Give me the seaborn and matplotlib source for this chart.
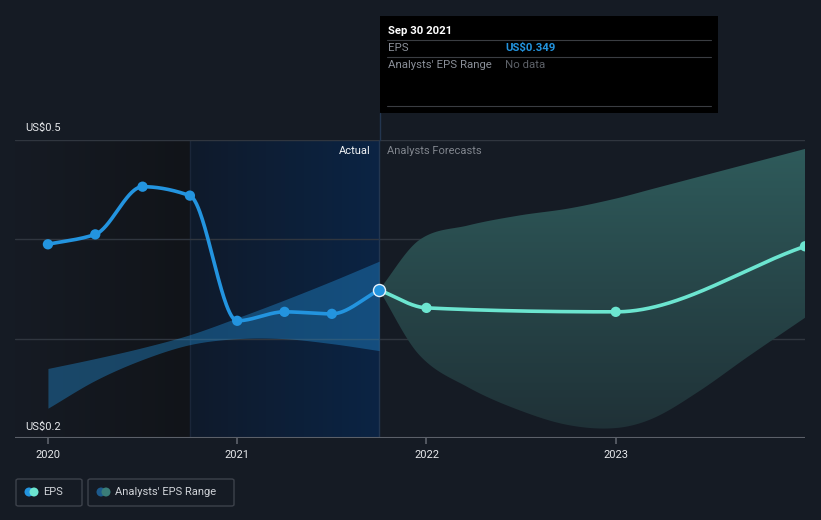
import numpy as np
import pandas as pd
import matplotlib
matplotlib.use("Agg")
import matplotlib.pyplot as plt
import seaborn as sns
from matplotlib.patches import FancyBboxPatch, Rectangle, Ellipse
from matplotlib.colors import LinearSegmentedColormap
from matplotlib.lines import Line2D

# ---------------- data ----------------
actual_t = [2020.0, 2020.25, 2020.5, 2020.75, 2021.0, 2021.25, 2021.5, 2021.75]
actual_eps = [0.395, 0.405, 0.453, 0.444, 0.318, 0.327, 0.325, 0.349]
past_range_low = [0.230, 0.258, 0.279, 0.294, 0.300, 0.300, 0.295, 0.288]
past_range_high = [0.270, 0.280, 0.291, 0.304, 0.321, 0.339, 0.358, 0.378]

forecast_t = [2021.75, 2022.0, 2023.0, 2024.0]
forecast_eps = [0.349, 0.331, 0.327, 0.393]

range_t = [2021.75, 2021.96, 2022.22, 2022.49, 2022.75, 2023.0, 2023.2, 2023.44, 2023.70, 2024.0]
range_low = [0.349, 0.284, 0.251, 0.228, 0.213, 0.210, 0.220, 0.247, 0.282, 0.321]
range_high = [0.349, 0.399, 0.414, 0.424, 0.431, 0.441, 0.451, 0.463, 0.476, 0.491]

year_ticks = [2020, 2021, 2022, 2023]
y_labels = ["US$0.2", "US$0.5"]

# ---------------- helpers ----------------
def hermite(x, y, m, xs):
    x = np.asarray(x, float); y = np.asarray(y, float)
    h = np.diff(x)
    idx = np.clip(np.searchsorted(x, xs) - 1, 0, len(x) - 2)
    t = (xs - x[idx]) / h[idx]
    h00 = 2 * t**3 - 3 * t**2 + 1
    h10 = t**3 - 2 * t**2 + t
    h01 = -2 * t**3 + 3 * t**2
    h11 = t**3 - t**2
    return h00 * y[idx] + h10 * h[idx] * m[idx] + h01 * y[idx + 1] + h11 * h[idx] * m[idx + 1]

def pchip_slopes(x, y):
    x = np.asarray(x, float); y = np.asarray(y, float)
    h = np.diff(x); d = np.diff(y) / h
    m = np.zeros_like(y)
    m[0] = d[0]; m[-1] = d[-1]
    for k in range(1, len(x) - 1):
        if d[k - 1] * d[k] <= 0:
            m[k] = 0.0
        else:
            w1 = 2 * h[k] + h[k - 1]; w2 = h[k] + 2 * h[k - 1]
            m[k] = (w1 + w2) / (w1 / d[k - 1] + w2 / d[k])
    return m

def cr_slopes(x, y):
    x = np.asarray(x, float); y = np.asarray(y, float)
    d = np.diff(y) / np.diff(x)
    m = np.zeros_like(y)
    m[0] = d[0]; m[-1] = d[-1]
    m[1:-1] = (y[2:] - y[:-2]) / (x[2:] - x[:-2])
    return m

def dense(t, v, kind="pchip", n=400):
    xs = np.linspace(t[0], t[-1], n)
    m = pchip_slopes(t, v) if kind == "pchip" else cr_slopes(t, v)
    return xs, hermite(t, v, m, xs)

# ---------------- style ----------------
BG = "#151b24"
BLUE = "#2394df"
MINT = "#6ce5d0"
sns.set_theme(style="dark")
plt.rcParams["font.family"] = ["Roboto", "DejaVu Sans"]

W, H = 821, 520
fig = plt.figure(figsize=(W / 100, H / 100), dpi=100, facecolor=BG)
L, R, T, B = 15, 805, 140, 438
ax = fig.add_axes([L / W, 1 - B / H, (R - L) / W, (B - T) / H])
ax.set_facecolor(BG)

X0, X1 = 2019.826, 2024.0
ax.set_xlim(X0, X1)
ax.set_ylim(0.2, 0.5)

def px2year(px):
    return X0 + (px - L) / (R - L) * (X1 - X0)

# background regions
left_cmap = LinearSegmentedColormap.from_list("l", ["#161b24", "#111419"])
ax.imshow(np.linspace(0, 1, 256)[None, :], cmap=left_cmap, aspect="auto",
          extent=[X0, 2020.75, 0.2, 0.5], zorder=0)
hl_cmap = LinearSegmentedColormap.from_list("h", ["#0f1a2b", "#0b2444"])
ax.imshow(np.linspace(0, 1, 256)[None, :], cmap=hl_cmap, aspect="auto",
          extent=[2020.75, 2021.75, 0.2, 0.5], zorder=0)
ax.axvline(2020.75, color="#1a2639", lw=1, zorder=1)

# gridlines
for gy in [0.3, 0.4, 0.5]:
    ax.axhline(gy, color="#30363f", lw=1, zorder=1)
ax.axhline(0.2, color="#5b6069", lw=1.5, zorder=5)

# vertical "today" line (inside plot) and above into tooltip
ax.axvline(2021.75, color="#233650", lw=1, zorder=1.5)
fig.add_artist(Line2D([379.5 / W, 379.5 / W], [1 - 140 / H, 1 - 113 / H], color="#233650", lw=1))

# past range band
xs_p, lo_p = dense(actual_t, past_range_low, "cr")
_, hi_p = dense(actual_t, past_range_high, "cr")
ax.fill_between(xs_p, lo_p, hi_p, color=BLUE, alpha=0.38, lw=0, zorder=2)

# forecast range band with vertical gradient
xs_f, lo_f = dense(range_t, range_low, "cr")
_, hi_f = dense(range_t, range_high, "cr")
poly = ax.fill_between(xs_f, lo_f, hi_f, facecolor="none", lw=0, zorder=2)
fc_cmap = LinearSegmentedColormap.from_list("f", ["#1f3036", "#2f5c5c"])
im = ax.imshow(np.linspace(0, 1, 256)[:, None], cmap=fc_cmap, aspect="auto",
               origin="lower", extent=[2021.75, X1, 0.2, 0.5], zorder=2)
im.set_clip_path(poly.get_paths()[0], transform=ax.transData)

# EPS lines
xa, ya = dense(actual_t, actual_eps)
df_a = pd.DataFrame({"t": xa, "eps": ya})
sns.lineplot(data=df_a, x="t", y="eps", color=BLUE, lw=2.6, ax=ax, zorder=4)
xf, yf = dense(forecast_t, forecast_eps)
df_f = pd.DataFrame({"t": xf, "eps": yf})
sns.lineplot(data=df_f, x="t", y="eps", color=MINT, lw=2.6, ax=ax, zorder=4)

pts_a = pd.DataFrame({"t": actual_t[:-1], "eps": actual_eps[:-1]})
sns.scatterplot(data=pts_a, x="t", y="eps", color=BLUE, s=55, edgecolor="none", ax=ax, zorder=6)
pts_f = pd.DataFrame({"t": forecast_t[1:], "eps": forecast_eps[1:]})
sns.scatterplot(data=pts_f, x="t", y="eps", color=MINT, s=55, edgecolor="none", ax=ax, zorder=6)
ax.scatter([actual_t[-1]], [actual_eps[-1]], s=75, c=[BLUE], edgecolors="#e8f2fb",
           linewidths=1.0, zorder=7)

# ticks
ax.set_xticks(year_ticks)
ax.set_xticklabels([str(y) for y in year_ticks], color="#e6e8eb", fontsize=8)
ax.tick_params(axis="x", length=4, color="#5b6069", pad=5, bottom=True)
ax.set_yticks([])
ax.set_xlabel(""); ax.set_ylabel("")
for s in ax.spines.values():
    s.set_visible(False)

# y labels inside
ax.text(px2year(25), 0.5 + 7 / 298 * 0.3, y_labels[1], color="#e6e8eb", fontsize=8,
        va="bottom", ha="left")
ax.text(px2year(25), 0.2 + 6 / 298 * 0.3, y_labels[0], color="#e6e8eb", fontsize=8,
        va="bottom", ha="left")

# Actual / Analysts Forecasts labels
fig.text(371 / W, 1 - 151 / H, "Actual", color="#f0f2f4", fontsize=8, ha="right", va="center")
fig.text(387 / W, 1 - 151 / H, "Analysts Forecasts", color="#80858d", fontsize=8, ha="left", va="center")

# tooltip
fig.add_artist(Rectangle((380 / W, 1 - 113 / H), 338 / W, 97 / H, facecolor="#000000", edgecolor="none"))
for ly in [40, 57, 106]:
    fig.add_artist(Line2D([387 / W, 711 / W], [1 - ly / H, 1 - ly / H], color="#3a3d42", lw=0.8))
fig.text(388 / W, 1 - 31 / H, "Sep 30 2021", color="white", fontsize=8.2, fontweight="bold", va="center")
fig.text(388 / W, 1 - 48 / H, "EPS", color="#8a8f98", fontsize=8.2, va="center")
fig.text(505 / W, 1 - 48 / H, "US$0.349", color=BLUE, fontsize=8.2, fontweight="bold", va="center")
fig.text(388 / W, 1 - 65 / H, "Analysts' EPS Range", color="#8a8f98", fontsize=8.2, va="center")
fig.text(505 / W, 1 - 65 / H, "No data", color="#5d6168", fontsize=8.2, va="center")

# legend
def legend_box(x0, x1, c1, c2, label):
    fig.add_artist(FancyBboxPatch((x0 / W, 1 - 506 / H), (x1 - x0) / W, 27 / H,
                                  boxstyle="round,pad=0,rounding_size=0.003",
                                  facecolor="none", edgecolor="#3d424b", lw=1))
    cy = 1 - 492 / H
    fig.add_artist(Ellipse(((x0 + 13) / W, cy), 9 / W, 9 / H, facecolor=c1, edgecolor="none"))
    fig.add_artist(Ellipse(((x0 + 18) / W, cy), 9 / W, 9 / H, facecolor=c2, edgecolor="none"))
    fig.text((x0 + 27) / W, cy, label, color="#d0d3d8", fontsize=8, va="center", ha="left")

legend_box(16, 82, BLUE, MINT, "EPS")
legend_box(88, 234, "#1d5a8c", "#3a7d78", "Analysts' EPS Range")

fig.savefig("out.png", dpi=100, facecolor=BG)
